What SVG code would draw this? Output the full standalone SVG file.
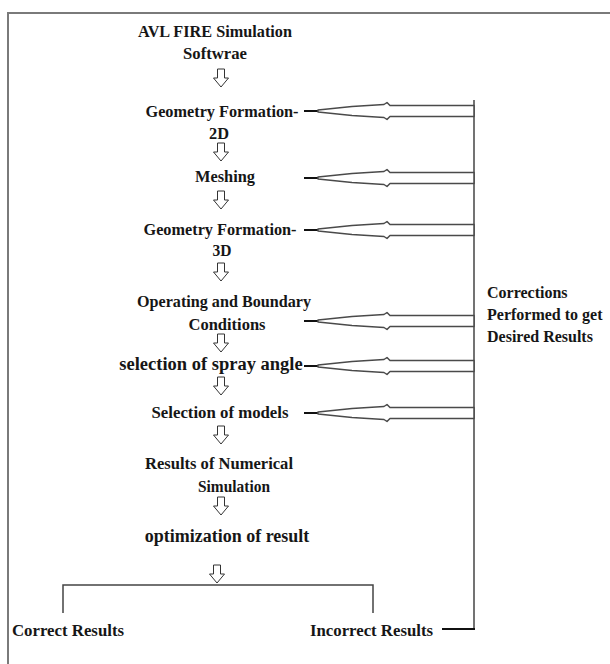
<svg xmlns="http://www.w3.org/2000/svg" width="610" height="664" viewBox="0 0 610 664">
<defs>
<style>
.t{font-family:"Liberation Serif","Times New Roman",serif;font-weight:bold;font-size:17.5px;fill:#161616;text-anchor:middle}
.tl{text-anchor:start}
.sm{font-size:16px}
.big{font-size:18.5px}
.frame{fill:none;stroke:#7a7a7a;stroke-width:2}
.line{fill:none;stroke:#444;stroke-width:1.5}
.dash{fill:none;stroke:#111;stroke-width:2}
.down{fill:#fff;stroke:#333;stroke-width:1}
.fb{fill:#fff;stroke:#4a4a4a;stroke-width:1.5;stroke-linejoin:round}
</style>
<path id="dn" class="down" d="M-3.5,0 h7 v9 h4 l-7.5,9 l-7.5,-9 h4 z"/>
<g id="fbA">
<line class="dash" x1="304" y1="0" x2="319" y2="0"/>
<path class="fb" d="M318,-1 L352,-4.5 L384,-6.5 L387,-8.5 L390,-5.5 L474,-5.5 L474,5.5 L390,5.5 L387,8.5 L384,6.5 L352,4.5 L318,1 Z"/>
</g>
</defs>
<rect width="610" height="664" fill="#fff"/>
<path class="frame" d="M610,13 H8 V664"/>

<g id="n-avl"><text class="t" x="215" y="37" textLength="154" lengthAdjust="spacingAndGlyphs">AVL FIRE Simulation</text><text class="t" x="215" y="59" textLength="64" lengthAdjust="spacingAndGlyphs">Softwrae</text></g>
<g id="n-geo2d"><text class="t" x="222" y="117" textLength="153" lengthAdjust="spacingAndGlyphs">Geometry Formation-</text><text class="t" x="219" y="139" textLength="20" lengthAdjust="spacingAndGlyphs">2D</text></g>
<g id="n-mesh"><text class="t" x="225" y="182" textLength="60" lengthAdjust="spacingAndGlyphs">Meshing</text></g>
<g id="n-geo3d"><text class="t" x="220" y="235" textLength="153" lengthAdjust="spacingAndGlyphs">Geometry Formation-</text><text class="t" x="222" y="256" textLength="19" lengthAdjust="spacingAndGlyphs">3D</text></g>
<g id="n-oper"><text class="t" x="224" y="307" textLength="174" lengthAdjust="spacingAndGlyphs">Operating and Boundary</text><text class="t" x="227" y="330" textLength="77" lengthAdjust="spacingAndGlyphs">Conditions</text></g>
<g id="n-spray"><text class="t big" x="211" y="370">selection of spray angle</text></g>
<g id="n-models"><text class="t" x="220" y="418" textLength="137" lengthAdjust="spacingAndGlyphs">Selection of models</text></g>
<g id="n-results"><text class="t" x="219" y="469" textLength="148" lengthAdjust="spacingAndGlyphs">Results of Numerical</text><text class="t" x="234" y="492" textLength="72" lengthAdjust="spacingAndGlyphs">Simulation</text></g>
<g id="n-opt"><text class="t" style="font-size:18px" x="227" y="542">optimization of result</text></g>
<g id="n-correct"><text class="t tl" x="12" y="636" textLength="112" lengthAdjust="spacingAndGlyphs">Correct Results</text></g>
<g id="n-incorrect"><text class="t tl" x="310" y="636" textLength="123" lengthAdjust="spacingAndGlyphs">Incorrect Results</text></g>
<g id="n-corr"><text class="t tl sm" x="487" y="298">Corrections</text><text class="t tl sm" x="487" y="320">Performed to get</text><text class="t tl sm" x="487" y="342">Desired Results</text></g>

<g id="connectors">
<use href="#dn" x="221" y="69"/>
<use href="#dn" x="221" y="143"/>
<use href="#dn" x="221" y="191"/>
<use href="#dn" x="221" y="263"/>
<use href="#dn" x="221" y="334"/>
<use href="#dn" x="221" y="377"/>
<use href="#dn" x="221" y="426"/>
<use href="#dn" x="221" y="497"/>
<use href="#dn" x="217" y="565"/>
<path class="line" d="M63,613 V585 H373 V613"/>
<path class="line" d="M474,100 V629"/>
<line class="dash" x1="442" y1="629" x2="475" y2="629"/>
<use href="#fbA" y="111"/>
<use href="#fbA" y="178"/>
<use href="#fbA" y="230"/>
<use href="#fbA" y="321"/>
<use href="#fbA" y="366"/>
<use href="#fbA" y="413"/>
</g>
</svg>
